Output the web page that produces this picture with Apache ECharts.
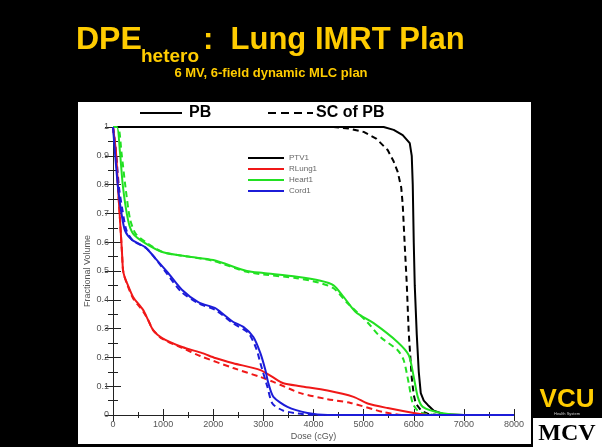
<!DOCTYPE html>
<html>
<head>
<meta charset="utf-8">
<script src="https://cdn.jsdelivr.net/npm/echarts@6/dist/echarts.min.js"></script>
<style>
html,body{margin:0;padding:0;background:#000;}
#chart{width:602px;height:447px;}
</style>
</head>
<body>
<div id="chart"></div>
<script>
// Dose (cGy), fractional volume pairs
const ptvPB = [[0,1],[5400,1],[5600,0.99],[5780,0.972],[5920,0.944],[5960,0.9],[5980,0.8],[6000,0.6],[6020,0.45],[6060,0.28],[6100,0.15],[6140,0.076],[6200,0.05],[6280,0.035],[6400,0.015],[6600,0.003],[7000,0],[8000,0]];
const ptvSC = [[0,1],[4400,1],[4700,0.995],[5000,0.983],[5250,0.96],[5480,0.92],[5600,0.88],[5680,0.844],[5750,0.79],[5780,0.73],[5820,0.59],[5860,0.458],[5900,0.285],[5960,0.13],[6000,0.07],[6040,0.04],[6150,0.015],[6300,0.003],[6500,0],[8000,0]];
const lungPB = [[0,1],[60,0.91],[100,0.79],[140,0.677],[180,0.562],[200,0.503],[230,0.48],[280,0.458],[400,0.41],[600,0.365],[700,0.33],[800,0.295],[980,0.267],[1380,0.236],[1780,0.215],[2040,0.198],[2400,0.18],[2940,0.156],[3180,0.132],[3400,0.11],[3740,0.1],[4280,0.085],[4800,0.063],[5080,0.04],[5480,0.024],[6000,0.007],[6300,0],[8000,0]];
const lungSC = [[0,1],[60,0.91],[100,0.79],[140,0.677],[180,0.562],[200,0.503],[230,0.48],[280,0.455],[400,0.405],[600,0.36],[700,0.33],[800,0.295],[980,0.265],[1380,0.233],[1740,0.205],[2400,0.163],[2940,0.132],[3200,0.115],[3740,0.076],[4280,0.055],[4740,0.042],[5400,0.01],[5800,0],[8000,0]];
const heartPB = [[0,1],[80,1],[140,0.91],[200,0.79],[300,0.677],[400,0.63],[640,0.597],[1000,0.565],[1500,0.55],[2000,0.538],[2670,0.5],[3000,0.493],[3670,0.48],[4140,0.466],[4400,0.45],[4600,0.41],[4840,0.358],[5200,0.319],[5680,0.253],[5900,0.208],[6000,0.132],[6080,0.063],[6180,0.028],[6540,0.007],[7000,0],[8000,0]];
const heartSC = [[0,1],[100,1],[170,0.91],[250,0.79],[340,0.68],[450,0.63],[680,0.597],[1000,0.565],[1500,0.55],[2000,0.535],[2670,0.497],[3000,0.488],[3670,0.475],[4100,0.46],[4400,0.44],[4670,0.39],[5070,0.323],[5340,0.27],[5680,0.225],[5800,0.19],[5900,0.11],[5980,0.04],[6100,0.012],[6300,0.002],[6600,0],[8000,0]];
const cordPB = [[0,1],[40,0.91],[100,0.79],[160,0.71],[240,0.64],[380,0.608],[640,0.583],[840,0.545],[1100,0.493],[1380,0.434],[1700,0.392],[2040,0.371],[2140,0.358],[2400,0.323],[2600,0.306],[2800,0.271],[2940,0.215],[3040,0.156],[3100,0.11],[3200,0.063],[3480,0.028],[3880,0.007],[4280,0],[8000,0]];
const cordSC = [[0,1],[60,0.91],[120,0.79],[190,0.71],[270,0.64],[400,0.605],[660,0.58],[860,0.54],[1080,0.49],[1360,0.428],[1700,0.388],[2040,0.365],[2400,0.318],[2700,0.285],[2860,0.23],[2940,0.18],[3080,0.098],[3180,0.04],[3400,0.015],[3800,0.003],[4200,0],[8000,0]];
const structNames = ['PTV1','RLung1','Heart1','Cord1'];
const structColors = ['#000000','#f01818','#22e022','#1c1cd8'];
const titleMain = 'DPE';
const titleSub = 'hetero';
const titleRest = ':  Lung IMRT Plan';
const subtitle = '6 MV, 6-field dynamic MLC plan';

const chart = echarts.init(document.getElementById('chart'));
const F = '"Liberation Sans", Arial, sans-serif';
const yellow = '#ffcc00';

function mk(name, data, color, dashed, smooth) {
  return {
    name: name, type: 'line', data: data, showSymbol: false, symbol: 'none',
    smooth: smooth ? 0.25 : false,
    lineStyle: {color: color, width: 2, type: dashed ? [6,4] : 'solid'},
    itemStyle: {color: color}, animation: false, z: dashed ? 3 : 4
  };
}
const pb = [ptvPB, lungPB, heartPB, cordPB];
const sc = [ptvSC, lungSC, heartSC, cordSC];
const series = [];
for (let i = 0; i < 4; i++) series.push(mk(structNames[i], pb[i], structColors[i], false, i > 0));
for (let i = 0; i < 4; i++) series.push(mk(structNames[i] + ' SC', sc[i], structColors[i], true, i > 0));

const xTick = {inside: true, length: 6, lineStyle: {color: '#222'}};
const xMinor = {show: true, splitNumber: 2, length: 3, lineStyle: {color: '#222'}};
const yTick = {inside: true, length: 8, lineStyle: {color: '#222'}};
const yMinor = {show: true, splitNumber: 2, length: 5, lineStyle: {color: '#222'}};
const aLine = {lineStyle: {color: '#222', width: 1}};

chart.setOption({
  backgroundColor: '#000',
  animation: false,
  grid: {left: 113, right: 88, top: 127, bottom: 32},
  legend: {
    data: structNames, orient: 'vertical', left: 243, top: 149,
    icon: 'rect', itemWidth: 36, itemHeight: 2, itemGap: 3,
    textStyle: {color: '#666', fontSize: 8, fontFamily: F}
  },
  xAxis: [
    {type: 'value', min: 0, max: 8000, interval: 1000, position: 'bottom',
      name: 'Dose (cGy)', nameLocation: 'middle', nameGap: 17, nameMoveOverlap: false,
      nameTextStyle: {color: '#555', fontSize: 9, fontFamily: F},
      axisLine: aLine, axisTick: xTick, minorTick: xMinor, splitLine: {show: false},
      axisLabel: {color: '#555', fontSize: 9, fontFamily: F, margin: 5, formatter: v => String(v)}},
    {type: 'value', min: 0, max: 8000, interval: 1000, position: 'top',
      axisLine: aLine, axisTick: xTick, minorTick: xMinor, splitLine: {show: false},
      axisLabel: {show: false}}
  ],
  yAxis: [
    {type: 'value', min: 0, max: 1, interval: 0.1, position: 'left',
      name: 'Fractional Volume', nameLocation: 'middle', nameGap: 21, nameMoveOverlap: false,
      nameTextStyle: {color: '#555', fontSize: 9, fontFamily: F},
      axisLine: aLine, axisTick: yTick, minorTick: yMinor, splitLine: {show: false},
      axisLabel: {color: '#555', fontSize: 9, fontFamily: F, margin: 4}},
    {type: 'value', min: 0, max: 1, interval: 0.1, position: 'right',
      axisLine: aLine, axisTick: yTick, minorTick: yMinor, splitLine: {show: false},
      axisLabel: {show: false}}
  ],
  graphic: [
    {type: 'rect', z: -100, shape: {x: 78, y: 102, width: 453, height: 342}, style: {fill: '#fff'}},
    {type: 'text', x: 76, y: 56, style: {text: titleMain, fill: yellow, font: 'bold 32px ' + F, verticalAlign: 'bottom'}},
    {type: 'text', x: 141, y: 66, style: {text: titleSub, fill: yellow, font: 'bold 19px ' + F, verticalAlign: 'bottom'}},
    {type: 'text', x: 203, y: 56, style: {text: titleRest, fill: yellow, font: 'bold 31px ' + F, verticalAlign: 'bottom'}},
    {type: 'text', x: 271, y: 80, style: {text: subtitle, fill: yellow, font: 'bold 13px ' + F, align: 'center', verticalAlign: 'bottom'}},
    {type: 'line', shape: {x1: 140, y1: 113, x2: 182, y2: 113}, style: {stroke: '#000', lineWidth: 2}},
    {type: 'text', x: 189, y: 113, style: {text: 'PB', fill: '#000', font: 'bold 16px ' + F, verticalAlign: 'middle'}},
    {type: 'line', shape: {x1: 268, y1: 113, x2: 313, y2: 113}, style: {stroke: '#000', lineWidth: 2, lineDash: [8,5]}},
    {type: 'text', x: 316, y: 113, style: {text: 'SC of PB', fill: '#000', font: 'bold 16px ' + F, verticalAlign: 'middle'}},
    {type: 'text', x: 567, y: 413, style: {text: 'VCU', fill: yellow, font: 'bold 26px ' + F, align: 'center', verticalAlign: 'bottom'}},
    {type: 'text', x: 567, y: 416, style: {text: 'Health System', fill: '#ccc', font: '4px ' + F, align: 'center', verticalAlign: 'bottom'}},
    {type: 'rect', shape: {x: 533, y: 418, width: 69, height: 29}, style: {fill: '#fff'}},
    {type: 'text', x: 567, y: 446, style: {text: 'MCV', fill: '#000', font: 'bold 24px "Liberation Serif", serif', align: 'center', verticalAlign: 'bottom'}}
  ],
  series: series
});
</script>
</body>
</html>
